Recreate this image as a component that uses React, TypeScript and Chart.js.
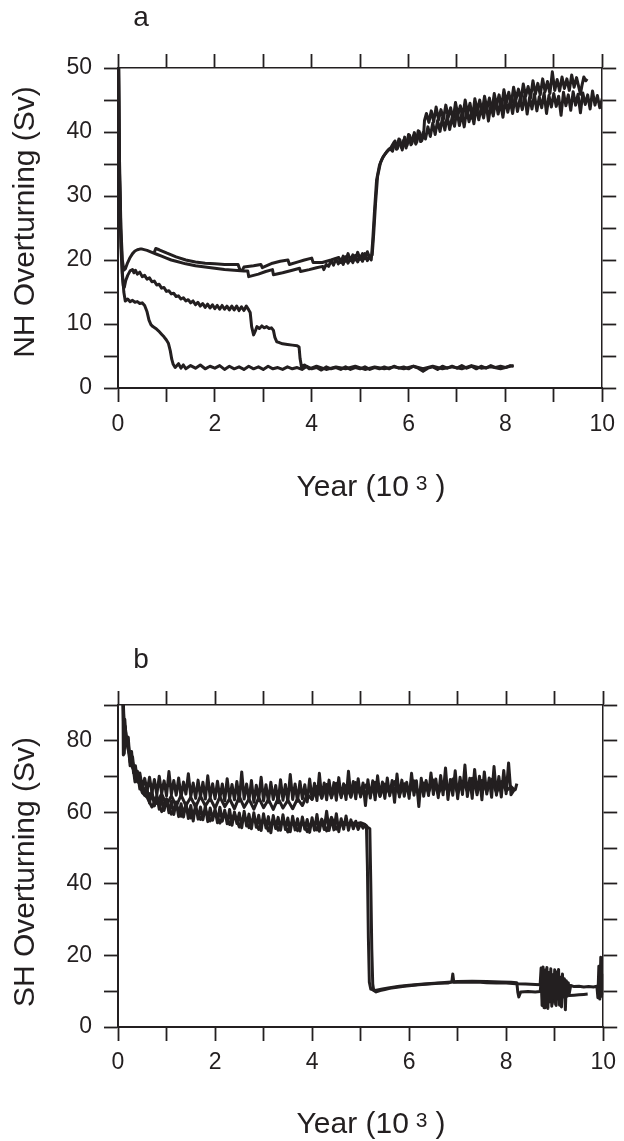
import { useEffect, useRef } from 'react';
import { Chart, registerables } from 'chart.js';

Chart.register(...registerables);

const INK = '#231f20';
const FONT = '"Liberation Sans", Arial, Helvetica, sans-serif';

type Pt = [number, number];

// ---- tick labels ----
const yearTickLabels = ['0', '2', '4', '6', '8', '10'];
const nhTickLabels = ['0', '10', '20', '30', '40', '50'];
const shTickLabels = ['0', '20', '40', '60', '80'];

// ---- panel a: NH overturning (Sv) vs year (10^3) ----
const nhRun1: Pt[] = [
  [0, 62], [0.03, 36], [0.06, 25], [0.09, 20], [0.12, 18.4], [0.15, 18.6], [0.2, 19.6], [0.25, 20.4], [0.3, 21.0],
  [0.35, 21.4], [0.4, 21.6], [0.45, 21.7], [0.5, 21.7], [0.6, 21.5], [0.7, 21.2], [0.8, 20.9], [0.9, 20.6], [1.0, 20.3],
  [1.1, 20.0], [1.2, 19.8], [1.4, 19.4], [1.6, 19.1], [1.8, 18.9], [2.0, 18.7], [2.2, 18.5], [2.4, 18.4], [2.6, 18.3],
  [2.68, 18.3], [2.7, 17.4], [2.9, 17.8], [3.05, 18.2], [3.19, 18.5], [3.21, 17.7], [3.4, 18.0], [3.6, 18.4], [3.75, 18.7],
  [3.77, 18.2], [3.95, 18.5], [4.1, 18.8], [4.23, 19.0], [4.25, 18.5], [4.3, 19.3], [4.35, 19.0], [4.4, 19.9], [4.45, 19.2],
  [4.5, 20.2], [4.55, 19.4], [4.6, 20.1], [4.65, 19.3], [4.7, 20.5], [4.75, 19.5], [4.8, 20.3], [4.85, 19.6], [4.9, 20.7],
  [4.95, 19.7], [5.0, 20.6], [5.05, 19.8], [5.1, 21.0], [5.15, 19.9], [5.2, 20.6], [5.23, 20.0], [5.26, 23], [5.3, 28],
  [5.34, 32.5], [5.4, 34.8], [5.46, 35.9], [5.52, 36.6], [5.58, 37.2], [5.64, 37.6],
  [5.7, 38.4], [5.75, 37.3], [5.8, 38.9], [5.85, 37.6], [5.9, 38.7], [5.95, 37.5], [6.0, 39.6], [6.05, 38.0], [6.1, 39.4],
  [6.15, 38.1], [6.2, 40.2], [6.25, 38.5], [6.3, 39.9], [6.35, 38.9], [6.4, 40.8], [6.45, 39.3], [6.5, 41.4], [6.55, 39.6],
  [6.6, 41.8], [6.65, 40.1], [6.7, 42.2], [6.75, 40.3], [6.8, 42.5], [6.85, 40.4], [6.9, 42.3], [6.95, 40.9], [7.0, 43.4],
  [7.05, 41.0], [7.1, 42.9], [7.15, 40.8], [7.2, 43.5], [7.25, 41.6], [7.3, 43.2], [7.35, 41.3], [7.4, 44.1], [7.45, 41.9],
  [7.5, 43.8], [7.55, 42.2], [7.6, 44.6], [7.65, 41.7], [7.7, 44.2], [7.75, 42.5], [7.8, 45.0], [7.85, 42.8], [7.9, 44.6],
  [7.95, 42.3], [8.0, 45.2], [8.05, 43.1], [8.1, 44.9], [8.15, 42.9], [8.2, 45.6], [8.25, 43.2], [8.3, 45.1], [8.35, 43.5],
  [8.4, 45.8], [8.45, 42.8], [8.5, 45.4], [8.55, 43.6], [8.6, 45.9], [8.65, 43.3], [8.7, 45.5], [8.75, 43.8], [8.8, 46.1],
  [8.85, 42.9], [8.9, 45.7], [8.95, 43.9], [9.0, 46.0], [9.05, 44.0], [9.1, 45.6], [9.15, 42.6], [9.2, 46.2], [9.25, 44.1],
  [9.3, 45.8], [9.35, 43.4], [9.4, 46.3], [9.45, 44.2], [9.5, 45.9], [9.55, 43.0], [9.6, 46.1], [9.65, 44.3], [9.7, 45.8],
  [9.75, 43.6], [9.8, 46.4], [9.85, 44.2], [9.9, 45.7], [9.95, 43.8], [10.0, 45.2],
];

const nhRun2: Pt[] = [
  [0.75, 21.2], [0.78, 21.8], [0.85, 21.6], [1.0, 21.1], [1.2, 20.5], [1.4, 20.0], [1.6, 19.7], [1.8, 19.5], [2.0, 19.4],
  [2.2, 19.3], [2.4, 19.3], [2.48, 19.3], [2.52, 18.4], [2.57, 18.4], [2.6, 18.9], [2.8, 19.1], [2.95, 19.3], [2.98, 18.8],
  [3.19, 19.5], [3.35, 19.8], [3.51, 20.0], [3.54, 19.3], [3.72, 19.7], [3.85, 20.0], [4.0, 20.3], [4.03, 19.6], [4.22, 19.6],
  [4.4, 20.0], [4.56, 20.4], [4.6, 19.6], [4.65, 20.6], [4.7, 19.8], [4.75, 21.0], [4.8, 19.9], [4.85, 20.8], [4.9, 20.0],
  [4.95, 21.2], [5.0, 20.1], [5.05, 21.0], [5.1, 20.2], [5.15, 21.3], [5.2, 20.3], [5.25, 20.8], [5.28, 24], [5.32, 29],
  [5.36, 33], [5.42, 35.2], [5.48, 36.2], [5.55, 36.9], [5.62, 37.4],
  [5.67, 37.0], [5.72, 38.6], [5.77, 37.4], [5.82, 38.8], [5.87, 37.2], [5.92, 39.2], [5.97, 37.9], [6.02, 39.5], [6.07, 38.2],
  [6.12, 39.9], [6.17, 38.4], [6.22, 40.1], [6.27, 38.6], [6.31, 39.4], [6.33, 41.8], [6.37, 42.9], [6.42, 41.5], [6.47, 43.3],
  [6.52, 41.6], [6.57, 43.9], [6.62, 41.9], [6.67, 43.5], [6.72, 42.0], [6.77, 44.2], [6.82, 42.3], [6.87, 43.8], [6.92, 41.8],
  [6.97, 44.6], [7.02, 42.6], [7.07, 44.1], [7.12, 42.4], [7.17, 45.0], [7.22, 42.9], [7.27, 44.5], [7.32, 42.1], [7.37, 45.2],
  [7.42, 43.3], [7.47, 45.0], [7.52, 43.1], [7.57, 45.6], [7.62, 43.6], [7.67, 45.3], [7.72, 43.2], [7.77, 46.0], [7.82, 44.1],
  [7.87, 45.8], [7.92, 43.8], [7.97, 46.6], [8.02, 44.6], [8.07, 46.2], [8.12, 44.3], [8.17, 47.0], [8.22, 45.1], [8.27, 46.7],
  [8.32, 44.9], [8.37, 47.5], [8.42, 45.6], [8.47, 47.1], [8.52, 45.3], [8.57, 48.0], [8.62, 45.9], [8.67, 47.6], [8.72, 45.8],
  [8.77, 48.3], [8.82, 46.3], [8.87, 47.9], [8.92, 46.0], [8.97, 49.4], [9.02, 46.5], [9.07, 48.2], [9.12, 46.4], [9.17, 48.6],
  [9.22, 46.8], [9.27, 48.3], [9.32, 46.5], [9.37, 48.9], [9.42, 47.0], [9.47, 48.5], [9.52, 46.9], [9.55, 45.9], [9.58, 47.2],
  [9.62, 48.6], [9.66, 48.0], [9.69, 48.3],
];

const nhRun3: Pt[] = [
  [0, 62], [0.03, 33], [0.06, 22], [0.09, 17.5], [0.11, 16.0], [0.13, 15.7], [0.16, 16.8], [0.2, 17.6], [0.25, 18.3],
  [0.3, 18.5], [0.33, 18.0], [0.36, 18.4], [0.4, 17.8], [0.45, 18.1], [0.5, 17.4], [0.55, 17.6], [0.6, 17.0], [0.65, 17.2],
  [0.7, 16.6], [0.75, 16.7], [0.8, 16.1], [0.85, 16.2], [0.9, 15.6], [0.95, 15.7], [1.0, 15.1], [1.05, 15.2], [1.1, 14.7],
  [1.15, 14.8], [1.2, 14.3], [1.25, 14.4], [1.3, 13.9], [1.35, 14.1], [1.4, 13.6], [1.45, 13.8], [1.5, 13.3], [1.55, 13.6],
  [1.6, 13.0], [1.65, 13.4], [1.7, 12.8], [1.75, 13.2], [1.8, 12.6], [1.85, 13.1], [1.9, 12.5], [1.95, 13.0], [2.0, 12.4],
  [2.05, 12.9], [2.1, 12.3], [2.15, 12.9], [2.2, 12.3], [2.25, 12.8], [2.3, 12.2], [2.35, 12.8], [2.4, 12.2], [2.45, 12.8],
  [2.5, 12.1], [2.55, 12.7], [2.6, 12.1], [2.65, 12.8], [2.7, 12.2], [2.73, 11.8], [2.76, 9.6], [2.8, 8.3], [2.83, 8.8],
  [2.87, 9.6], [2.92, 9.3], [2.97, 9.7], [3.02, 9.4], [3.07, 9.6], [3.12, 9.3], [3.17, 9.4], [3.21, 9.0], [3.24, 7.9],
  [3.28, 7.2], [3.33, 7.1], [3.4, 6.9], [3.5, 6.8], [3.6, 6.7], [3.7, 6.6], [3.74, 6.4], [3.76, 4.6], [3.79, 3.3],
  [3.85, 3.6], [3.95, 3.0], [4.1, 3.4], [4.3, 2.9], [4.5, 3.3], [4.7, 3.0], [4.9, 3.4], [5.1, 2.9], [5.3, 3.3], [5.5, 3.0],
  [5.7, 3.3], [5.9, 3.0], [6.1, 3.4], [6.3, 3.0], [6.5, 3.4], [6.7, 3.0], [6.9, 3.3], [7.1, 3.0], [7.3, 3.5], [7.5, 3.1],
  [7.7, 3.3], [7.9, 3.0], [8.1, 3.4], [8.17, 3.5],
];

const nhRun4: Pt[] = [
  [0, 62], [0.03, 34], [0.06, 24], [0.09, 18], [0.12, 15], [0.15, 13.6], [0.2, 13.9], [0.25, 13.5], [0.3, 13.7],
  [0.35, 13.4], [0.4, 13.5], [0.45, 13.2], [0.5, 13.3], [0.55, 12.9], [0.6, 11.9], [0.64, 10.6], [0.68, 9.9], [0.72, 9.6],
  [0.78, 9.3], [0.84, 8.9], [0.9, 8.4], [0.95, 8.0], [1.0, 7.5], [1.04, 7.0], [1.08, 5.8], [1.11, 4.5], [1.14, 3.7],
  [1.18, 3.2], [1.25, 3.8], [1.3, 3.1], [1.35, 3.6], [1.4, 3.0], [1.5, 3.5], [1.6, 3.1], [1.7, 3.6], [1.8, 3.0], [1.9, 3.4],
  [2.0, 3.1], [2.1, 3.5], [2.2, 2.9], [2.3, 3.4], [2.4, 3.0], [2.5, 3.3], [2.6, 2.9], [2.7, 3.4], [2.8, 3.0], [2.9, 3.3],
  [3.0, 2.9], [3.1, 3.4], [3.2, 3.0], [3.3, 3.2], [3.4, 2.9], [3.5, 3.3], [3.6, 3.0], [3.7, 3.2], [3.8, 2.9], [3.9, 3.4],
  [4.0, 3.0], [4.1, 3.2], [4.2, 2.8], [4.3, 3.3], [4.4, 3.0], [4.5, 3.2], [4.6, 2.9], [4.7, 3.3], [4.8, 2.9], [4.9, 3.2],
  [5.0, 3.0], [5.1, 3.3], [5.2, 2.9], [5.3, 3.2], [5.4, 3.0], [5.5, 3.3], [5.6, 3.0], [5.7, 3.4], [5.8, 3.1], [5.9, 3.3],
  [6.0, 3.0], [6.1, 3.4], [6.2, 3.1], [6.3, 2.6], [6.4, 3.1], [6.5, 3.3], [6.6, 2.9], [6.7, 3.4], [6.8, 3.1], [6.9, 3.4],
  [7.0, 3.1], [7.1, 3.5], [7.2, 3.1], [7.3, 3.4], [7.4, 3.0], [7.5, 3.4], [7.6, 3.1], [7.7, 3.5], [7.8, 3.2], [7.9, 3.4],
  [8.0, 3.2], [8.1, 3.5], [8.17, 3.4],
];

// ---- panel b: SH overturning (Sv) vs year (10^3) ----
const shRun1: Pt[] = [
  [0.1, 97], [0.11, 76], [0.13, 76.5], [0.15, 84], [0.18, 79], [0.21, 81], [0.25, 74], [0.3, 75.5], [0.35, 69.5],
  [0.4, 71.5], [0.45, 66.5], [0.5, 68.2], [0.55, 64.8], [0.6, 66.4],
  [0.65, 62.6], [0.7, 65.9], [0.75, 61.8], [0.8, 64.7], [0.85, 60.9], [0.9, 64.0], [0.95, 60.5], [1.0, 63.8], [1.05, 59.9],
  [1.1, 63.1], [1.15, 59.4], [1.2, 62.9], [1.25, 58.8], [1.3, 62.4], [1.35, 58.7], [1.4, 62.6], [1.45, 58.3], [1.5, 61.9],
  [1.55, 57.6], [1.6, 62.3], [1.65, 58.1], [1.7, 61.5], [1.75, 57.9], [1.8, 61.8], [1.85, 57.4], [1.9, 61.2], [1.95, 57.8],
  [2.0, 60.9], [2.05, 57.1], [2.1, 61.4], [2.15, 57.5], [2.2, 60.6], [2.25, 56.8], [2.3, 60.8], [2.35, 56.4], [2.4, 60.1],
  [2.45, 56.9], [2.5, 59.8], [2.55, 55.7], [2.6, 60.3], [2.65, 56.2], [2.7, 59.5], [2.75, 55.4], [2.8, 59.9], [2.85, 55.8],
  [2.9, 59.2], [2.95, 54.9], [3.0, 59.6], [3.05, 55.6], [3.1, 58.8], [3.15, 54.3], [3.2, 59.1], [3.25, 55.5], [3.3, 58.6],
  [3.35, 55.0], [3.4, 59.3], [3.45, 55.2], [3.5, 58.4], [3.55, 54.6], [3.6, 58.9], [3.65, 55.1], [3.7, 58.2], [3.75, 54.8],
  [3.8, 58.7], [3.85, 55.3], [3.9, 58.0], [3.95, 54.4], [4.0, 58.5], [4.05, 55.0], [4.1, 59.4], [4.15, 54.7], [4.2, 58.1],
  [4.25, 55.2], [4.3, 60.3], [4.35, 54.9], [4.4, 58.4], [4.45, 55.1], [4.5, 59.6], [4.55, 54.6], [4.6, 58.2], [4.65, 55.3],
  [4.7, 59.0], [4.75, 55.0], [4.8, 57.9], [4.85, 55.4], [4.9, 57.5], [4.95, 55.2], [5.0, 56.9], [5.05, 55.6], [5.1, 56.4],
  [5.15, 55.8], [5.19, 55.4], [5.21, 40], [5.23, 22], [5.25, 12], [5.27, 10.2], [5.32, 9.8], [5.4, 10.2], [5.5, 10.5],
  [5.6, 10.8], [5.75, 11.1], [5.9, 11.4], [6.0, 11.5], [6.2, 11.8], [6.4, 12.0], [6.6, 12.2], [6.8, 12.3], [6.88, 12.6],
  [6.9, 14.8], [6.92, 12.5], [7.0, 12.6], [7.2, 12.5], [7.4, 12.6], [7.6, 12.4], [7.8, 12.3], [8.0, 12.3], [8.2, 12.1],
  [8.4, 12.0], [8.6, 11.9], [8.7, 11.8],
  [8.72, 16.5], [8.74, 6.0], [8.76, 16.8], [8.78, 5.4], [8.8, 15.9], [8.82, 6.8], [8.84, 16.6], [8.86, 5.2], [8.88, 15.2],
  [8.9, 7.1], [8.92, 16.3], [8.94, 5.8], [8.96, 14.6], [8.98, 8.2], [9.0, 16.0], [9.02, 6.4], [9.04, 15.4], [9.06, 7.8],
  [9.08, 16.1], [9.1, 6.1], [9.12, 13.9], [9.14, 5.6], [9.16, 14.8], [9.18, 8.4], [9.2, 13.5], [9.22, 4.8], [9.24, 12.9],
  [9.26, 8.6], [9.28, 12.4], [9.3, 9.4], [9.33, 11.6], [9.4, 11.3], [9.5, 11.4], [9.6, 11.2], [9.7, 11.3], [9.8, 11.2],
  [9.87, 11.4], [9.89, 8.2], [9.91, 17.0], [9.93, 7.8], [9.95, 19.5], [9.97, 8.6], [9.99, 14.5], [10.0, 9.0],
];

const shRun2: Pt[] = [
  [0.1, 94], [0.12, 87], [0.15, 79], [0.2, 80.5], [0.25, 73], [0.3, 74], [0.35, 68.5], [0.4, 70], [0.5, 65.5], [0.6, 64.2],
  [0.7, 61.5], [0.8, 64.0], [0.9, 60.2], [1.0, 63.2], [1.1, 59.5], [1.2, 62.0], [1.3, 58.9], [1.4, 61.7], [1.5, 58.4],
  [1.6, 61.0], [1.7, 58.0], [1.8, 60.7], [1.9, 57.6], [2.0, 60.3], [2.1, 57.0], [2.2, 59.9], [2.3, 56.6], [2.4, 59.5],
  [2.5, 55.9], [2.6, 59.0], [2.7, 55.7], [2.8, 58.6], [2.9, 55.2], [3.0, 58.3], [3.1, 54.8], [3.2, 58.1], [3.3, 55.0],
  [3.4, 57.8], [3.5, 54.5], [3.6, 57.6], [3.7, 54.9], [3.8, 57.3], [3.9, 54.6], [4.0, 57.4], [4.1, 55.1], [4.2, 57.9],
  [4.3, 54.8], [4.4, 58.6], [4.5, 55.3], [4.6, 57.4], [4.7, 56.6], [4.8, 57.2], [4.9, 56.8], [5.0, 57.1], [5.08, 56.7],
  [5.12, 56.2], [5.14, 45], [5.16, 25], [5.18, 12.5], [5.21, 10.6], [5.3, 10.2], [5.45, 10.6], [5.6, 11.0], [5.8, 11.4],
  [6.0, 11.7], [6.3, 12.0], [6.6, 12.3], [7.0, 12.7], [7.3, 12.8], [7.6, 12.7], [7.9, 12.6], [8.1, 12.5], [8.22, 12.4],
  [8.24, 9.7], [8.26, 8.4], [8.3, 9.8], [8.45, 9.9], [8.6, 9.8], [8.7, 9.9],
  [8.73, 13.5], [8.75, 7.0], [8.77, 14.2], [8.79, 6.2], [8.81, 12.8], [8.83, 7.6], [8.85, 15.0], [8.87, 6.9], [8.89, 13.3],
  [8.91, 7.4], [8.93, 12.6], [8.95, 6.5], [8.97, 13.9], [8.99, 7.2], [9.01, 11.8], [9.03, 6.0], [9.05, 13.1], [9.07, 8.0],
  [9.09, 12.2], [9.11, 7.3], [9.13, 10.5], [9.15, 8.8], [9.19, 9.4], [9.25, 9.1], [9.3, 8.8], [9.4, 8.9], [9.5, 9.0],
  [9.6, 9.1], [9.68, 9.2],
];

const shRun3: Pt[] = [
  [0.1, 95], [0.12, 80], [0.15, 83], [0.2, 78], [0.25, 75.5], [0.3, 72.5], [0.35, 71], [0.4, 68.8], [0.5, 67.2],
  [0.6, 65.5], [0.7, 64.8], [0.8, 62.5], [0.9, 65.2], [1.0, 62.0], [1.1, 64.6], [1.2, 61.7], [1.3, 64.8], [1.4, 61.9],
  [1.5, 64.2], [1.6, 61.5], [1.7, 64.5], [1.8, 61.8], [1.9, 63.9], [2.0, 61.2], [2.1, 64.3], [2.2, 61.6], [2.3, 63.8],
  [2.4, 61.0], [2.5, 64.4], [2.6, 61.4], [2.7, 63.7], [2.8, 60.9], [2.9, 64.1], [3.0, 61.3], [3.1, 63.6], [3.2, 60.8],
  [3.3, 63.9], [3.4, 61.2], [3.5, 63.4], [3.6, 61.0], [3.7, 63.8], [3.8, 61.9], [3.9, 65.0], [4.0, 63.6], [4.1, 67.2],
  [4.2, 64.1], [4.3, 67.8], [4.4, 64.3], [4.5, 68.1], [4.6, 64.6], [4.7, 67.5], [4.8, 64.4], [4.9, 68.3], [5.0, 64.8],
  [5.1, 67.6], [5.2, 65.0], [5.3, 68.4], [5.4, 64.6], [5.5, 67.9], [5.6, 65.2], [5.7, 68.6], [5.8, 64.9], [5.9, 68.0],
  [6.0, 65.3], [6.1, 68.8], [6.2, 65.0], [6.3, 68.2], [6.4, 65.6], [6.5, 69.0], [6.6, 65.1], [6.7, 68.4], [6.8, 65.7],
  [6.9, 69.3], [7.0, 65.3], [7.1, 68.7], [7.2, 65.9], [7.3, 69.5], [7.4, 65.4], [7.5, 68.9], [7.6, 65.8], [7.7, 69.2],
  [7.8, 65.5], [7.9, 68.6], [8.0, 66.0], [8.1, 67.2], [8.17, 66.3],
];

const shRun4: Pt[] = [
  [0.1, 96], [0.12, 84], [0.14, 86], [0.17, 80], [0.2, 81], [0.24, 75], [0.28, 77], [0.32, 71], [0.36, 73], [0.4, 68.5],
  [0.45, 71.0], [0.5, 67.0], [0.55, 69.5], [0.6, 66.0], [0.65, 69.8], [0.7, 65.5],
  [0.75, 69.2], [0.8, 64.9], [0.85, 70.1], [0.9, 65.3], [0.95, 68.8], [1.0, 64.6], [1.05, 71.4], [1.1, 65.0], [1.15, 68.9],
  [1.2, 64.8], [1.25, 69.6], [1.3, 64.2], [1.35, 68.5], [1.4, 65.1], [1.45, 70.8], [1.5, 64.4], [1.55, 68.2], [1.6, 63.9],
  [1.65, 69.0], [1.7, 64.3], [1.75, 68.4], [1.8, 63.7], [1.85, 70.2], [1.9, 64.1], [1.95, 68.0], [2.0, 63.8], [2.05, 68.7],
  [2.1, 64.0], [2.15, 67.9], [2.2, 63.2], [2.25, 69.4], [2.3, 63.9], [2.35, 67.8], [2.4, 63.5], [2.45, 68.6], [2.5, 63.1],
  [2.55, 71.3], [2.6, 63.7], [2.65, 67.9], [2.7, 63.4], [2.75, 68.9], [2.8, 62.8], [2.85, 67.6], [2.9, 63.5], [2.95, 69.8],
  [3.0, 63.2], [3.05, 67.7], [3.1, 62.9], [3.15, 68.4], [3.2, 63.6], [3.25, 67.5], [3.3, 62.7], [3.35, 69.1], [3.4, 63.4],
  [3.45, 67.8], [3.5, 63.0], [3.55, 70.6], [3.6, 63.6], [3.65, 67.9], [3.7, 63.1], [3.75, 68.6], [3.8, 63.8], [3.85, 67.7],
  [3.9, 62.9], [3.95, 69.3], [4.0, 63.7], [4.05, 68.1], [4.1, 63.3], [4.15, 70.9], [4.2, 63.9], [4.25, 68.2], [4.3, 63.5],
  [4.35, 69.0], [4.4, 64.0], [4.45, 68.3], [4.5, 63.4], [4.55, 69.7], [4.6, 64.1], [4.65, 68.0], [4.7, 63.6], [4.75, 71.5],
  [4.8, 64.2], [4.85, 68.6], [4.9, 63.8], [4.95, 69.4], [5.0, 64.3], [5.05, 68.2], [5.1, 61.9], [5.15, 69.1], [5.2, 64.0],
  [5.25, 68.8], [5.3, 63.5], [5.35, 70.2], [5.4, 64.4], [5.45, 68.5], [5.5, 63.9], [5.55, 69.6], [5.6, 64.6], [5.65, 68.9],
  [5.7, 62.8], [5.75, 70.7], [5.8, 64.3], [5.85, 69.0], [5.9, 64.5], [5.95, 68.4], [6.0, 63.9], [6.05, 70.9], [6.1, 64.8],
  [6.15, 68.8], [6.2, 61.6], [6.25, 69.5], [6.3, 64.5], [6.35, 68.9], [6.4, 64.7], [6.45, 71.0], [6.5, 65.0], [6.55, 69.3],
  [6.6, 64.1], [6.65, 70.3], [6.7, 64.9], [6.75, 72.4], [6.8, 63.6], [6.85, 69.2], [6.9, 64.8], [6.95, 71.6], [7.0, 63.8],
  [7.05, 69.8], [7.1, 65.0], [7.15, 73.2], [7.2, 64.4], [7.25, 69.5], [7.3, 63.9], [7.35, 72.0], [7.4, 64.9], [7.45, 70.1],
  [7.5, 63.5], [7.55, 71.3], [7.6, 65.1], [7.65, 69.6], [7.7, 64.2], [7.75, 72.8], [7.8, 64.8], [7.85, 70.0], [7.9, 64.3],
  [7.95, 71.7], [8.0, 65.2], [8.05, 73.8], [8.1, 64.9], [8.15, 66.0], [8.19, 66.4], [8.22, 68.0],
];

interface PanelSpec {
  height: number;
  padTop: number;
  plotBottom: number;
  yMax: number;
  yStep: number;
  yLabels: string[];
  yTitle: string;
  letter: string;
  letterBaseline: number;
  yTitleY: number;
  xTitleBaseline: number;
  xTickPad: number;
  runs: Pt[][];
}

const panelText = {
  id: 'panelText',
  afterDraw(chart: any, _args: any, opts: any) {
    const { ctx } = chart;
    ctx.save();
    ctx.fillStyle = INK;
    ctx.textBaseline = 'alphabetic';
    // panel letter
    ctx.font = `28px ${FONT}`;
    ctx.textAlign = 'center';
    ctx.fillText(opts.letter, 141, opts.letterBaseline);
    // y title
    ctx.save();
    ctx.translate(26, opts.yTitleY);
    ctx.rotate(-Math.PI / 2);
    ctx.font = `30px ${FONT}`;
    ctx.textAlign = 'center';
    ctx.textBaseline = 'middle';
    ctx.fillText(opts.yTitle, 0, 0);
    ctx.restore();
    // x title with superscript
    const main1 = 'Year (10';
    const sup = '3';
    const main2 = ')';
    ctx.textAlign = 'left';
    ctx.font = `30px ${FONT}`;
    const w1 = ctx.measureText(main1).width;
    const w2 = ctx.measureText(main2).width;
    ctx.font = `21px ${FONT}`;
    const ws = ctx.measureText(sup).width;
    const gap1 = 7;
    const gap2 = 8;
    const total = w1 + gap1 + ws + gap2 + w2;
    let x = 371 - total / 2;
    const by = opts.xTitleBaseline;
    ctx.font = `30px ${FONT}`;
    ctx.fillText(main1, x, by);
    x += w1 + gap1;
    ctx.font = `21px ${FONT}`;
    ctx.fillText(sup, x, by - 6);
    x += ws + gap2;
    ctx.font = `30px ${FONT}`;
    ctx.fillText(main2, x, by);
    ctx.restore();
  },
};

function Panel({ spec }: { spec: PanelSpec }) {
  const ref = useRef<HTMLCanvasElement | null>(null);
  useEffect(() => {
    if (!ref.current) return;
    const tickFont = { family: FONT, size: 23 };
    const gridBase = {
      drawOnChartArea: false,
      drawTicks: true,
      tickLength: 14,
      tickWidth: 1.8,
      tickColor: INK,
      color: INK,
    };
    const chart = new Chart(ref.current, {
      type: 'line',
      data: {
        datasets: spec.runs.map((run) => ({
          data: run.map(([x, y]) => ({ x, y })),
          borderColor: INK,
          borderWidth: 3,
          borderJoinStyle: 'round',
          pointRadius: 0,
          tension: 0,
          fill: false,
        })),
      },
      options: {
        animation: false,
        responsive: false,
        events: [],
        parsing: false as any,
        layout: { padding: { top: spec.padTop, left: 0, right: 0, bottom: 0 } },
        plugins: {
          legend: { display: false },
          tooltip: { enabled: false },
          panelText: {
            letter: spec.letter,
            letterBaseline: spec.letterBaseline,
            yTitle: spec.yTitle,
            yTitleY: spec.yTitleY,
            xTitleBaseline: spec.xTitleBaseline,
          },
        } as any,
        scales: {
          x: {
            type: 'linear',
            position: 'bottom',
            min: 0,
            max: 10,
            afterFit: (s: any) => {
              s.height = spec.height - spec.plotBottom;
            },
            ticks: {
              stepSize: 1,
              autoSkip: false,
              maxRotation: 0,
              padding: spec.xTickPad,
              color: INK,
              font: tickFont,
              callback: (v: any) => (yearTickLabels.includes(String(v)) ? String(v) : ''),
            },
            grid: gridBase,
            border: { display: true, color: INK, width: 2 },
          },
          x2: {
            type: 'linear',
            position: 'top',
            min: 0,
            max: 10,
            afterFit: (s: any) => {
              s.height = 14;
            },
            ticks: { stepSize: 1, display: false, autoSkip: false },
            grid: gridBase,
            border: { display: true, color: INK, width: 1.5 },
          },
          y: {
            type: 'linear',
            position: 'left',
            min: 0,
            max: spec.yMax,
            afterFit: (s: any) => {
              s.width = 118;
            },
            ticks: {
              stepSize: spec.yStep,
              autoSkip: false,
              padding: 12,
              color: INK,
              font: tickFont,
              callback: (v: any) => (spec.yLabels.includes(String(v)) ? String(v) : ''),
            },
            grid: gridBase,
            border: { display: true, color: INK, width: 2 },
          },
          y2: {
            type: 'linear',
            position: 'right',
            min: 0,
            max: spec.yMax,
            afterFit: (s: any) => {
              s.width = 14;
            },
            ticks: { stepSize: spec.yStep, display: false, autoSkip: false },
            grid: gridBase,
            border: { display: true, color: INK, width: 1.5 },
          },
        } as any,
      },
      plugins: [panelText as any],
    });
    return () => chart.destroy();
  }, [spec]);
  return <canvas ref={ref} width={624} height={spec.height} style={{ display: 'block' }} />;
}

const panelA: PanelSpec = {
  height: 560,
  padTop: 54,
  plotBottom: 388,
  yMax: 50,
  yStep: 5,
  yLabels: nhTickLabels,
  yTitle: 'NH Overturning (Sv)',
  letter: 'a',
  letterBaseline: 26,
  yTitleY: 222,
  xTitleBaseline: 496,
  xTickPad: 9,
  runs: [nhRun1, nhRun2, nhRun3, nhRun4],
};

const panelB: PanelSpec = {
  height: 581,
  padTop: 131,
  plotBottom: 467,
  yMax: 90,
  yStep: 10,
  yLabels: shTickLabels,
  yTitle: 'SH Overturning (Sv)',
  letter: 'b',
  letterBaseline: 108,
  yTitleY: 312,
  xTitleBaseline: 573,
  xTickPad: 8,
  runs: [shRun1, shRun2, shRun3, shRun4],
};

export default function App() {
  return (
    <div style={{ position: 'absolute', left: 0, top: 0, width: 624, height: 1141, background: '#fff' }}>
      <Panel spec={panelA} />
      <Panel spec={panelB} />
    </div>
  );
}
